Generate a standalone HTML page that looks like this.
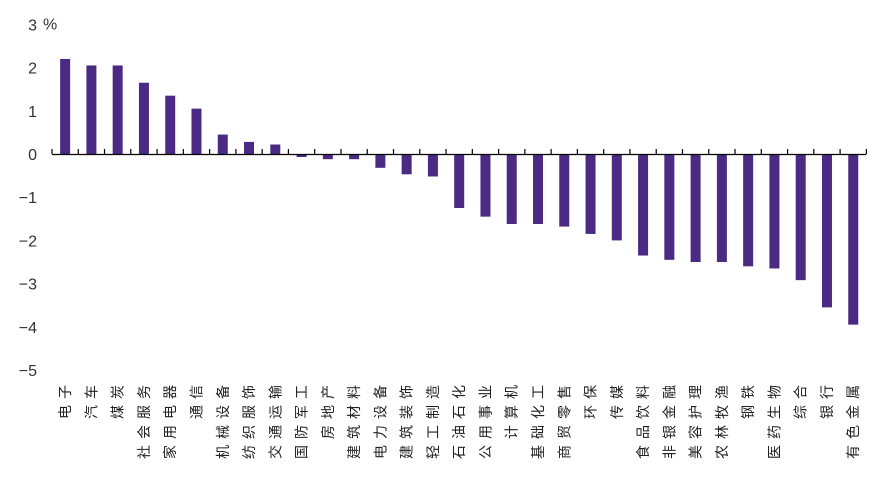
<!DOCTYPE html>
<html><head><meta charset="utf-8"><style>
body{margin:0;background:#fff;width:879px;height:477px;overflow:hidden}
svg text{font-family:"Liberation Sans","Noto Sans CJK SC",sans-serif}
</style></head><body>
<svg id="c" width="879" height="477"></svg>
<script>
const categories=["电子","汽车","煤炭","社会服务","家用电器","通信","机械设备","纺织服饰","交通运输","国防军工","房地产","建筑材料","电力设备","建筑装饰","轻工制造","石油石化","公用事业","计算机","基础化工","商贸零售","环保","传媒","食品饮料","非银金融","美容护理","农林牧渔","钢铁","医药生物","综合","银行","有色金属"];
const values=[2.2,2.05,2.05,1.65,1.35,1.05,0.45,0.28,0.22,-0.07,-0.12,-0.12,-0.32,-0.47,-0.52,-1.25,-1.45,-1.62,-1.62,-1.68,-1.85,-2.0,-2.35,-2.45,-2.5,-2.5,-2.6,-2.65,-2.92,-3.55,-3.95];
const yTicks=[3,2,1,0,-1,-2,-3,-4,-5];
const NS="http://www.w3.org/2000/svg";
const svg=document.getElementById('c');
const y=v=>154-v*43.2;
const x0=52,step=26.27;
const xc=i=>x0+step*(i+0.5);
function mk(t,a){const e=document.createElementNS(NS,t);for(const k in a)e.setAttribute(k,a[k]);svg.appendChild(e);return e;}
yTicks.forEach(v=>{
  const t=mk('text',{x:37,y:y(v)+6,'text-anchor':'end','font-size':16,fill:'#333'});
  t.textContent=v<0?'−'+(-v):v;
  
  
});
const pct=mk('text',{x:43,y:y(3)+5,'font-size':16,fill:'#333'});
pct.textContent='%';


values.forEach((v,i)=>{
  const r=mk('rect',{x:xc(i)-5,y:Math.min(y(v),y(0)),width:10,height:Math.max(1.5,Math.abs(y(v)-y(0))),fill:'#4b2a83'});
  
  
});
const ax=mk('line',{x1:x0,x2:x0+step*categories.length,y1:154.5,y2:154.5,stroke:'#000','stroke-width':1.2});


for(let i=0;i<=categories.length;i++){
  const tk=mk('line',{x1:x0+step*i,x2:x0+step*i,y1:149,y2:154,stroke:'#000','stroke-width':1.2});
  
  
}
categories.forEach((c,i)=>{
  const chars=[...c].reverse();
  chars.forEach((ch,k)=>{
    const cx=xc(i), cy=392+k*20;
    const t=mk('text',{x:cx,y:cy+5,'text-anchor':'middle','font-size':14,fill:'#222',transform:`rotate(-90 ${cx} ${cy})`});
    t.textContent=ch;
    
    
  });
});
</script>
</body></html>
